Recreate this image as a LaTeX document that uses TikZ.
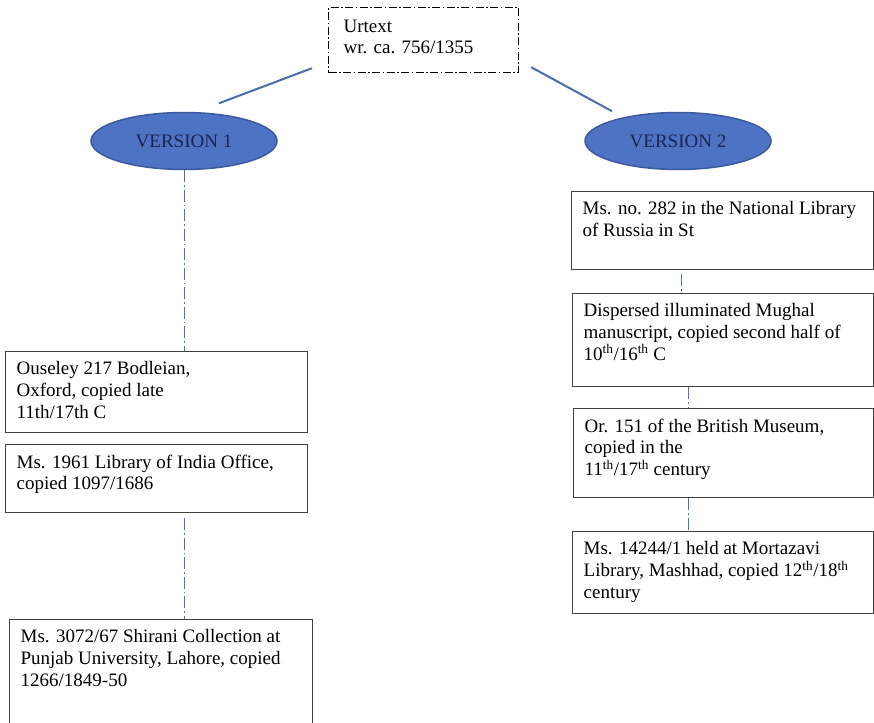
\documentclass[tikz,border=0pt]{standalone}
\usepackage{fontspec}
\setmainfont{Liberation Serif}
\usetikzlibrary{shapes.geometric,calc}
\definecolor{ellfill}{HTML}{4F73C4}
\definecolor{elldraw}{HTML}{3B5A9E}
\definecolor{elltext}{HTML}{1A2550}
\definecolor{linkblue}{HTML}{4A6CB0}
\definecolor{dashblue}{HTML}{4472C4}
\definecolor{boxgray}{HTML}{404040}
\newcommand{\fs}{\fontsize{19pt}{21.7pt}\selectfont}
\newcommand{\bxt}[3]{\parbox[c][#2][t]{#1}{\raggedright #3}}
\begin{document}
\begin{tikzpicture}[x=1pt,y=-1pt,
  box/.style={draw=boxgray, line width=1.3pt, fill=white, inner xsep=11pt, inner ysep=10pt, anchor=north west, font=\fs, text=black},
  ubox/.style={draw=black, line width=1.2pt, dash pattern=on 8pt off 2.5pt on 1.5pt off 2.5pt, inner xsep=15pt, inner ysep=12pt, anchor=north west, font=\fs},
  ell/.style={ellipse, draw=elldraw, line width=1.5pt, fill=ellfill, minimum width=186pt, minimum height=57pt, inner sep=0pt, font=\fs, text=elltext},
  link/.style={draw=linkblue, line width=2pt},
  ddline/.style={draw=dashblue, line width=1pt, dash pattern=on 12pt off 3pt on 1.5pt off 3pt}
]
\useasboundingbox (0,0) rectangle (874,722);

% top
\node[ubox] (U) at (328,7) {\bxt{160pt}{41pt}{Urtext\\wr. ca. 756/1355}};

\node[ell] (e1) at (184,141) {VERSION 1};
\node[ell] (e2) at (678,141) {VERSION 2};

\draw[link] ([shift={(-16,-5)}]U.south west) -- ([shift={(35,-8.5)}]e1.north);
\draw[link] ([shift={(12,-6)}]U.south east) -- ([shift={(-66,-0.5)}]e2.north);

% left column
\node[box] (L1) at (5,351) {\bxt{280pt}{61pt}{Ouseley 217 Bodleian,\\Oxford, copied late\\11th/17th C}};
\node[box] (L2) at (5,444) {\bxt{280pt}{48pt}{Ms. 1961 Library of India Office,\\copied 1097/1686}};
\node[box] (L3) at (9,619) {\bxt{281pt}{90pt}{Ms. 3072/67 Shirani Collection at\\Punjab University, Lahore, copied\\1266/1849-50}};

% right column
\node[box] (R1) at (571,191) {\bxt{280pt}{58pt}{Ms. no. 282 in the National Library\\of Russia in St}};
\node[box] (R2) at (572,293) {\bxt{279pt}{73pt}{Dispersed illuminated Mughal\\manuscript, copied second half of\\10\textsuperscript{th}/16\textsuperscript{th} C}};
\node[box] (R3) at (573,408) {\bxt{278pt}{69pt}{Or. 151 of the British Museum,\\copied in the\\11\textsuperscript{th}/17\textsuperscript{th} century}};
\node[box] (R4) at (572,531) {\bxt{279pt}{62pt}{Ms. 14244/1 held at Mortazavi\\Library, Mashhad, copied 12\textsuperscript{th}/18\textsuperscript{th}\\century}};

% dash-dot connectors
\draw[ddline] (e1.south) -- (e1.south |- L1.north);
\draw[ddline, shorten <=5pt] ([xshift=28pt]L2.south) -- ([xshift=28pt]L2.south |- L3.north);
\draw[ddline, shorten <=4pt] ([xshift=-41pt]R1.south) -- ([xshift=-41pt]R1.south |- R2.north);
\draw[ddline] ([xshift=-34.5pt]R2.south) -- ([xshift=-34.5pt]R2.south |- R3.north);
\draw[ddline] ([xshift=-35pt]R3.south) -- ([xshift=-35pt]R3.south |- R4.north);
\end{tikzpicture}
\end{document}
